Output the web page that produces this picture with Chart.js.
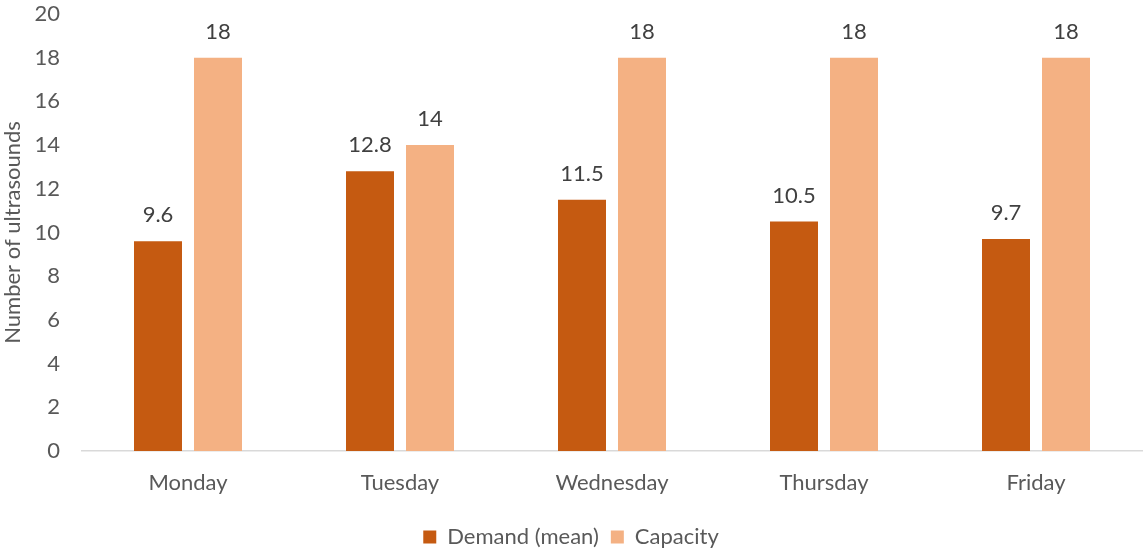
<!DOCTYPE html>
<html>
<head>
<meta charset="utf-8">
<script src="https://cdn.jsdelivr.net/npm/chart.js@4.4.1/dist/chart.umd.min.js"></script>
<style>
  html, body { margin: 0; padding: 0; background: #fff; }
  #wrap { width: 1145px; height: 548px; position: relative; }
</style>
</head>
<body>
<div id="wrap"><canvas id="chart"></canvas></div>
<script>
const days = ['Monday', 'Tuesday', 'Wednesday', 'Thursday', 'Friday'];
const demandMean = [9.6, 12.8, 11.5, 10.5, 9.7];
const capacity = [18, 14, 18, 18, 18];
const yTicks = [0, 2, 4, 6, 8, 10, 12, 14, 16, 18, 20];

const FONT = 'Lato, "Open Sans", sans-serif';

// value labels above each bar (no datalabels plugin offline)
const barLabels = {
    id: 'barLabels',
    afterDatasetsDraw(chart) {
        const ctx = chart.ctx;
        ctx.save();
        ctx.font = '22px ' + FONT;
        ctx.fillStyle = '#404040';
        ctx.textAlign = 'center';
        ctx.textBaseline = 'middle';
        chart.data.datasets.forEach((ds, i) => {
            chart.getDatasetMeta(i).data.forEach((bar, j) => {
                ctx.fillText(String(ds.data[j]), bar.x, bar.y - 26);
            });
        });
        ctx.restore();
    }
};

new Chart(document.getElementById('chart'), {
    type: 'bar',
    data: {
        labels: days,
        datasets: [
            { label: 'Demand (mean)', data: demandMean, backgroundColor: '#C55A11' },
            { label: 'Capacity', data: capacity, backgroundColor: '#F4B183' }
        ]
    },
    options: {
        responsive: true,
        maintainAspectRatio: false,
        animation: false,
        categoryPercentage: 0.566,
        barPercentage: 0.8,
        layout: { padding: { top: 14, right: 3, left: 0, bottom: -10 } },
        plugins: {
            tooltip: { enabled: false },
            legend: {
                position: 'bottom',
                labels: {
                    boxWidth: 13,
                    boxHeight: 13,
                    padding: 12,
                    color: '#595959',
                    font: { family: FONT, size: 22, lineHeight: 1 }
                }
            }
        },
        scales: {
            y: {
                min: 0,
                max: 20,
                afterBuildTicks: axis => { axis.ticks = yTicks.map(v => ({ value: v })); },
                afterFit: axis => {
                    axis.width = 82;
                    axis.paddingTop = 0;
                    axis.paddingBottom = 0;
                },
                grid: { display: false, drawTicks: false },
                border: { display: false },
                ticks: {
                    color: '#595959',
                    padding: 22,
                    font: { family: FONT, size: 22 }
                },
                title: {
                    display: true,
                    text: 'Number of ultrasounds',
                    color: '#595959',
                    padding: 0,
                    font: { family: FONT, size: 22 }
                }
            },
            x: {
                grid: { display: false, drawTicks: false },
                border: { display: true, color: '#D9D9D9', width: 1.5 },
                ticks: {
                    color: '#595959',
                    padding: 19,
                    font: { family: FONT, size: 22 }
                },
                afterFit: axis => { axis.height = 63; }
            }
        }
    },
    plugins: [barLabels]
});
</script>
</body>
</html>
